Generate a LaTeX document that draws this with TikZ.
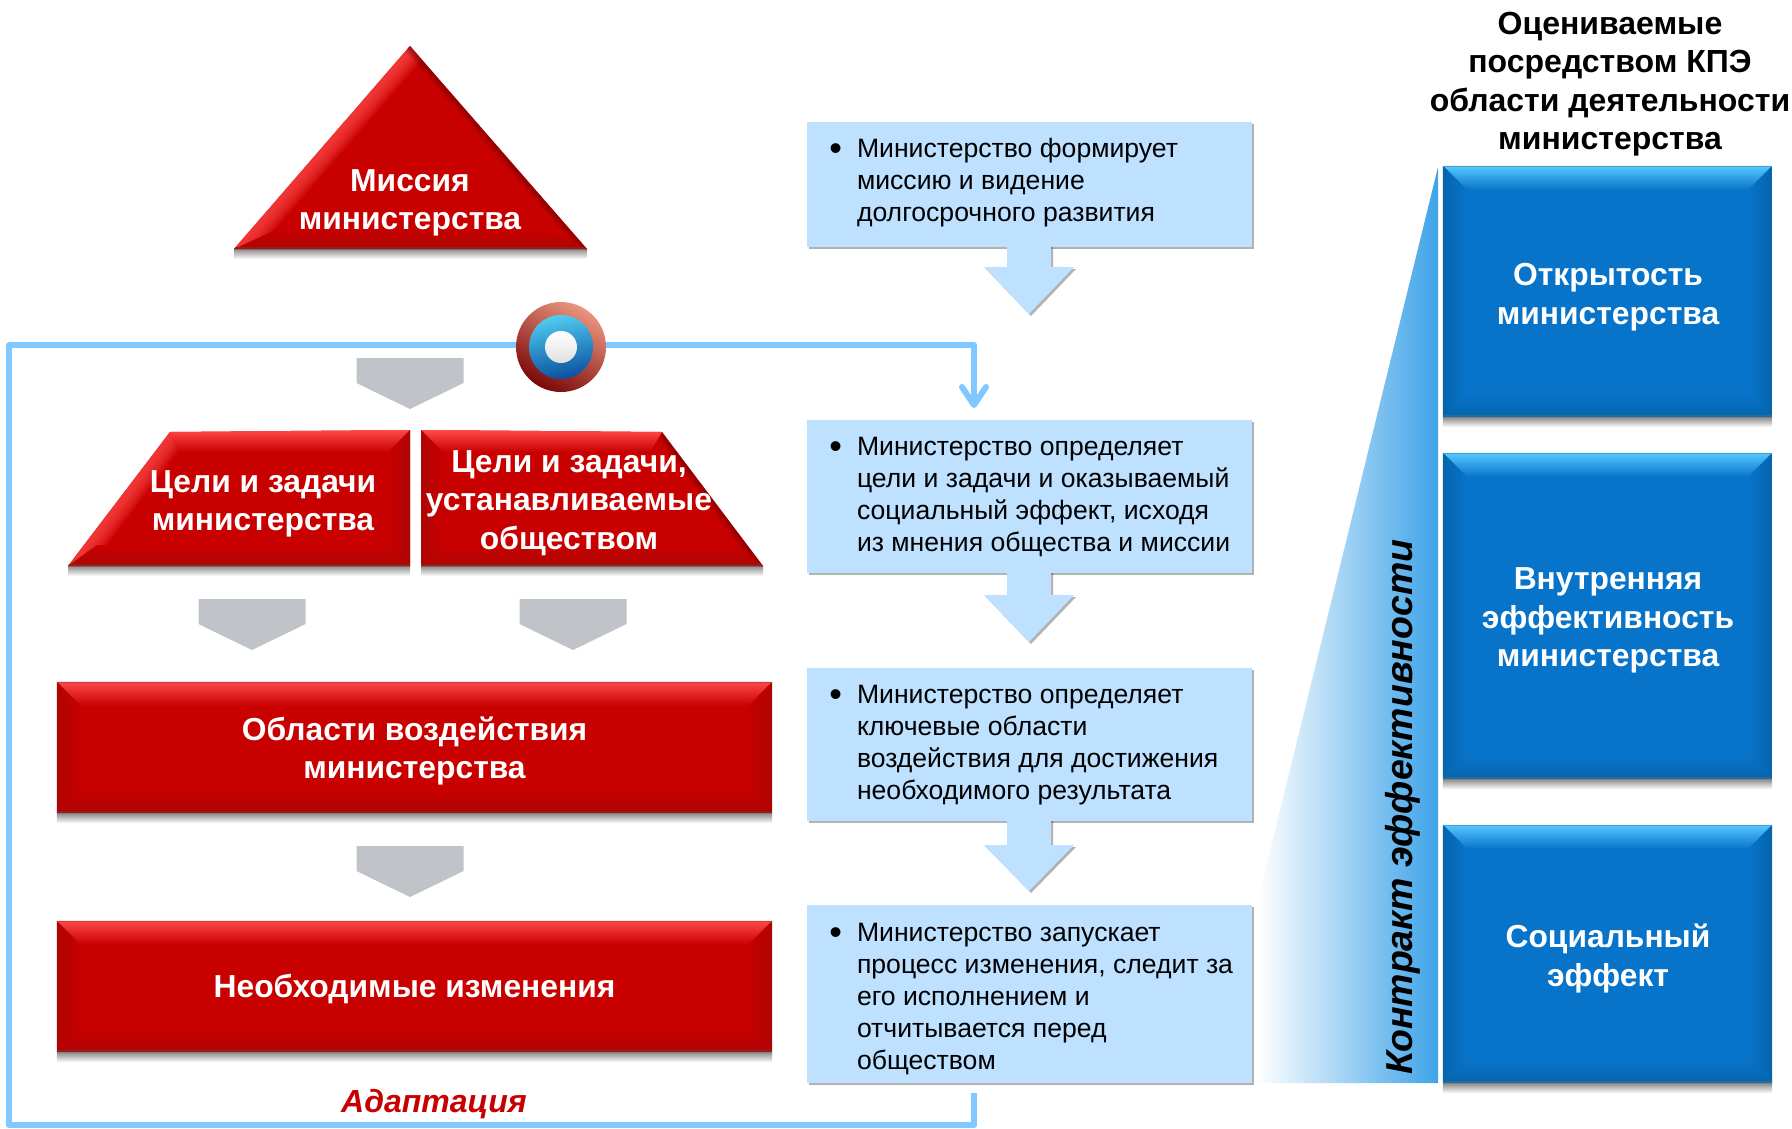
\documentclass[tikz,border=0pt]{standalone}
\usepackage{fontspec}
\setmainfont{Liberation Sans}
\usetikzlibrary{arrows.meta,shadows}
\definecolor{redhi}{HTML}{FF4848}
\definecolor{redbase}{HTML}{C80000}
\definecolor{redlo}{HTML}{AE0404}
\definecolor{rededge}{HTML}{8E2020}
\definecolor{bluehi}{HTML}{55C8FF}
\definecolor{bluebase}{HTML}{0874C9}
\definecolor{bluelo}{HTML}{0564AC}
\definecolor{blueedge}{HTML}{2A6A9E}
\definecolor{infoblue}{HTML}{BDE1FF}
\definecolor{feedblue}{HTML}{80C8FF}
\definecolor{greyarrow}{HTML}{C0C4C8}
\definecolor{wedgeblue}{HTML}{3EA3E8}
\definecolor{ringtop}{HTML}{50CCF0}
\definecolor{ringmid}{HTML}{1C8AE0}
\definecolor{ringlow}{HTML}{0A50A0}
\definecolor{rimtop}{HTML}{EA9580}
\definecolor{rimmid}{HTML}{E0583C}
\definecolor{rimlow}{HTML}{7A0808}
\tikzset{
	lineshadow/.style={drop shadow={shadow xshift=2pt,shadow yshift=-2pt,opacity=.3,fill=black}},
	redbox/.style={fill=redbase,minimum width=715pt,inner sep=0pt},
	bluebox/.style={fill=bluebase,minimum width=329pt,inner sep=0pt},
	infobox/.style={fill=infoblue,lineshadow,minimum width=445pt,inner sep=0pt},
	infotext/.style={anchor=west,inner sep=0pt,align=left,font=\fontsize{26.6}{32}\selectfont},
	whitetext/.style={inner sep=0pt,text=white,font=\fontsize{31.8}{38.5}\selectfont\bfseries,align=center},
	feedback/.style={draw=feedblue,line width=6pt,line join=round},
}
\newcommand{\bul}{\llap{\raisebox{-3pt}{\fontsize{36}{32}\selectfont\textbullet}\hspace{15pt}}}
\newcommand{\softfoot}[2]{
	\shade[top color=black!45,bottom color=white] #1 rectangle ([yshift=-10pt]#2);
}
\newcommand{\bevelbox}[2]{
	\softfoot{(#1.south west)}{#1.south east}
	\shade[top color=#2hi,bottom color=#2base] (#1.north west) -- (#1.north east) -- ([xshift=-24pt,yshift=-24pt]#1.north east) -- ([xshift=24pt,yshift=-24pt]#1.north west) -- cycle;
	\shade[top color=#2base,bottom color=#2lo] (#1.south west) -- (#1.south east) -- ([xshift=-24pt,yshift=24pt]#1.south east) -- ([xshift=24pt,yshift=24pt]#1.south west) -- cycle;
	\shade[left color=#2lo,right color=#2base] (#1.north west) -- ([xshift=24pt,yshift=-24pt]#1.north west) -- ([xshift=24pt,yshift=24pt]#1.south west) -- (#1.south west) -- cycle;
	\shade[left color=#2base,right color=#2lo] (#1.north east) -- ([xshift=-24pt,yshift=-24pt]#1.north east) -- ([xshift=-24pt,yshift=24pt]#1.south east) -- (#1.south east) -- cycle;
	\draw[#2edge,line width=2.5pt] ([yshift=1pt]#1.south west) -- ([yshift=1pt]#1.south east);
	\draw[#2hi!80!black,line width=1pt] ([yshift=-.5pt]#1.north west) -- ([yshift=-.5pt]#1.north east);
}
\newcommand{\softedge}[4]{
	\foreach \w in {#4}
		\draw[#1,opacity=.16,line width=\w pt] #2 -- #3;
}
\begin{document}
\begin{tikzpicture}[x=1pt,y=-1pt]
	\useasboundingbox (0,0) rectangle (1792,1128);
	\fill[white] (0,0) rectangle (1792,1128);

	\coordinate (fbend) at (974,1093);
	\coordinate (fbbr) at (974,1125);
	\coordinate (fbbl) at (9,1125);
	\coordinate (fbtl) at (9,345);
	\coordinate (fbtr) at (974,345);
	\coordinate (fbtip) at (974,408);

	\softfoot{(234,249)}{587,249}
	\fill[redbase] (410,46) -- (587,249) -- (234,249) -- cycle;
	\begin{scope}
		\clip (410,46) -- (587,249) -- (234,249) -- cycle;
		\softedge{redhi}{(410,46)}{(234,249)}{36,32,28,24,20,16,12,8}
		\softedge{redlo!70!black}{(410,46)}{(587,249)}{14,11,8,6,4}
		\shade[top color=redbase,bottom color=redlo] (234,249) -- (587,249) -- (540,228) -- (280,228) -- cycle;
		\draw[rededge,line width=3pt] (234,248) -- (587,248);
	\end{scope}
	\node[whitetext] (mission) at (410,203) {Миссия\\министерства};

	\foreach \cx/\ty in {410/358,252/599,573/599,410/846}
		\fill[greyarrow] (\cx-53.5,\ty) -- (\cx+53.5,\ty) -- (\cx+53.5,\ty+25) -- (\cx,\ty+51) -- (\cx-53.5,\ty+25) -- cycle;

	\softfoot{(68,566)}{410,566}
	\fill[redbase] (170,432) -- (410,430) -- (410,566) -- (68,566) -- cycle;
	\begin{scope}
		\clip (170,432) -- (410,430) -- (410,566) -- (68,566) -- cycle;
		\softedge{redhi}{(170,432)}{(68,566)}{36,32,28,24,20,16,12,8}
		\shade[top color=redhi,bottom color=redbase] (170,432) -- (410,430) -- (388,452) -- (178,452) -- cycle;
		\shade[left color=redbase,right color=redlo] (388,452) -- (410,430) -- (410,566) -- (388,545) -- cycle;
		\shade[top color=redbase,bottom color=redlo] (68,566) -- (410,566) -- (388,545) -- (97,545) -- cycle;
		\draw[rededge,line width=3pt] (68,565) -- (410,565);
	\end{scope}
	\node[whitetext] (goalsleft) at (263,504) {Цели и задачи\\министерства};

	\softfoot{(421,566)}{763,566}
	\fill[redbase] (421,430) -- (662,432) -- (763,566) -- (421,566) -- cycle;
	\begin{scope}
		\clip (421,430) -- (662,432) -- (763,566) -- (421,566) -- cycle;
		\softedge{redlo!70!black}{(662,432)}{(763,566)}{14,11,8,6,4}
		\shade[top color=redhi,bottom color=redbase] (421,430) -- (662,432) -- (650,452) -- (443,452) -- cycle;
		\shade[left color=redlo,right color=redbase] (421,430) -- (443,452) -- (443,545) -- (421,566) -- cycle;
		\shade[top color=redbase,bottom color=redlo] (421,566) -- (763,566) -- (735,545) -- (443,545) -- cycle;
		\draw[rededge,line width=3pt] (421,565) -- (763,565);
	\end{scope}
	\node[whitetext] (goalsright) at (569,503) {Цели и задачи,\\устанавливаемые\\обществом};

	\node[redbox,minimum height=131pt] (areas) at (414.5,747.5) {};
	\bevelbox{areas}{red}
	\node[whitetext] (areastext) at (414.5,751) {Области воздействия\\министерства};
	\node[redbox,minimum height=131pt] (changes) at (414.5,986.5) {};
	\bevelbox{changes}{red}
	\node[whitetext] (changestext) at (414.5,989) {Необходимые изменения};

	\node[infobox,minimum height=125pt] (info1) at (1029.5,184.5) {};
	\node[infobox,minimum height=153pt] (info2) at (1029.5,496.5) {};
	\node[infobox,minimum height=153pt] (info3) at (1029.5,744.5) {};
	\node[infobox,minimum height=178pt] (info4) at (1029.5,994) {};

	\foreach \cx/\sy/\hy/\ty in {1029/245/267/314,1029/571/595/642,1029/819/845/891}
		\fill[infoblue,lineshadow] (\cx-22,\sy) -- (\cx+22,\sy) -- (\cx+22,\hy) -- (\cx+45,\hy) -- (\cx,\ty) -- (\cx-45,\hy) -- (\cx-22,\hy) -- cycle;

	\node[infotext] (text1) at ([xshift=50pt,yshift=1.5pt]info1.west) {\bul Министерство формирует\\миссию и видение\\долгосрочного развития};
	\node[infotext] (text2) at ([xshift=50pt,yshift=0pt]info2.west) {\bul Министерство определяет\\цели и задачи и оказываемый\\социальный эффект, исходя\\из мнения общества и миссии};
	\node[infotext] (text3) at ([xshift=50pt,yshift=-1pt]info3.west) {\bul Министерство определяет\\ключевые области\\воздействия для достижения\\необходимого результата};
	\node[infotext] (text4) at ([xshift=50pt,yshift=-5pt]info4.west) {\bul Министерство запускает\\процесс изменения, следит за\\его исполнением и\\отчитывается перед\\обществом};

	\shade[left color=white,right color=wedgeblue] (1438,167) -- (1438,1083) -- (1257,1083) -- (1257,904) -- cycle;
	\node[rotate=90,inner sep=0pt,font=\fontsize{37.5}{40}\selectfont\bfseries\itshape] (contract) at (1403,807) {Контракт эффективности};

	\node[bluebox,minimum height=251pt] (open) at (1607.5,291.5) {};
	\bevelbox{open}{blue}
	\node[whitetext] (opentext) at (1608,297) {Открытость\\министерства};
	\node[bluebox,minimum height=326pt] (inner) at (1607.5,616) {};
	\bevelbox{inner}{blue}
	\node[whitetext] (innertext) at (1608,620.5) {Внутренняя\\эффективность\\министерства};
	\node[bluebox,minimum height=258pt] (social) at (1607.5,954) {};
	\bevelbox{social}{blue}
	\node[whitetext] (socialtext) at (1608,958.5) {Социальный\\эффект};

	\node[inner sep=0pt,align=center,font=\fontsize{32}{38.5}\selectfont\bfseries] (header) at (1610,84) {Оцениваемые\\посредством КПЭ\\области деятельности\\министерства};
	\node[inner sep=0pt,text=redbase,font=\fontsize{32}{38}\selectfont\bfseries\itshape] (adapt) at (434,1104) {Адаптация};

	\node[circle,minimum size=90pt,inner sep=0pt] (emblem) at (561,347) {};
	\draw[feedback] (fbend) -- (fbbr) -- (fbbl) -- (fbtl) -- (emblem.west |- fbtl);
	\draw[feedback,-{Straight Barb[length=18pt,width=24pt,round]}] (emblem.east |- fbtr) -- (fbtr) -- (fbtip);
	\shade[top color=rimtop,middle color=rimmid,bottom color=rimlow,shading angle=-30] (emblem) circle (45);
	\shade[top color=ringtop,middle color=ringmid,bottom color=ringlow,shading angle=10] (emblem) circle (32);
	\shade[top color=white,bottom color=black!12] (emblem) circle (16);
\end{tikzpicture}
\end{document}
